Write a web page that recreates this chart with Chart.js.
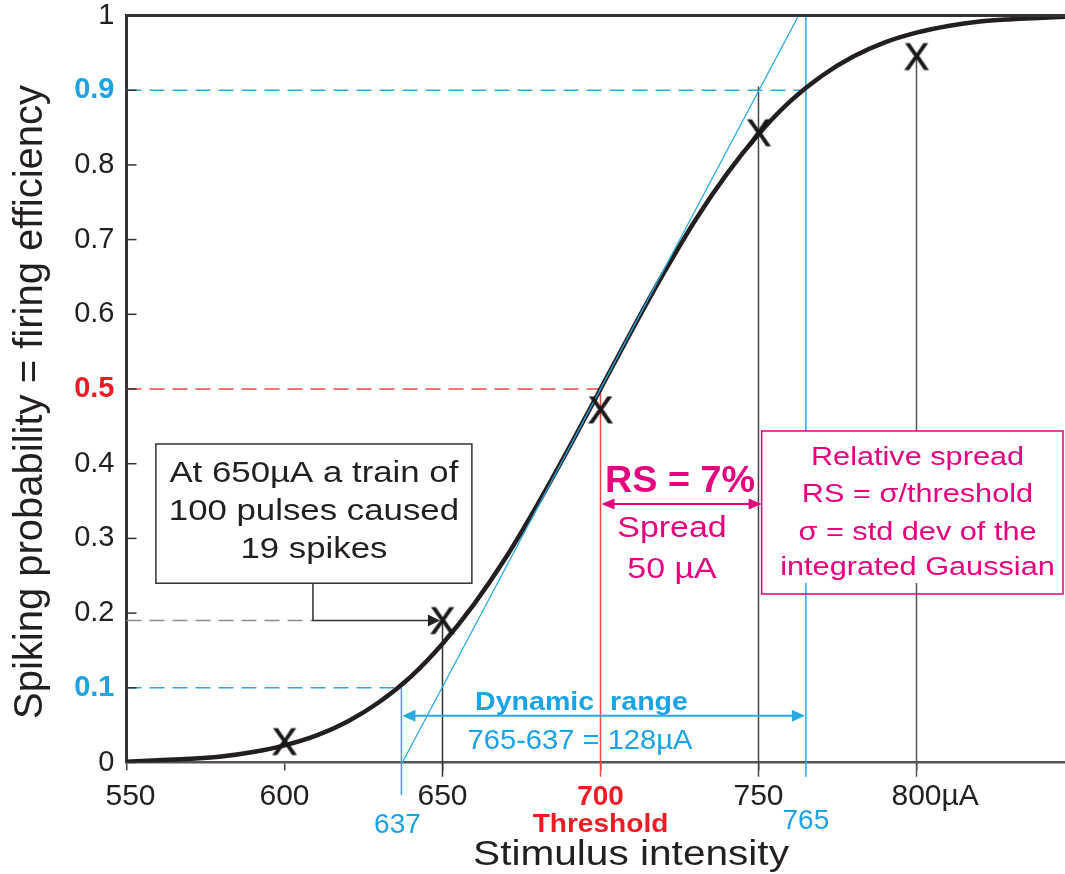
<!DOCTYPE html>
<html>
<head>
<meta charset="utf-8">
<script src="https://cdn.jsdelivr.net/npm/chart.js@4.4.1/dist/chart.umd.min.js"></script>
<style>
  html, body { margin: 0; padding: 0; background: #fff; }
  #wrap { width: 1065px; height: 874px; position: relative; }
</style>
</head>
<body>
<div id="wrap"><canvas id="c" width="1065" height="874"></canvas></div>
<script>
// ---- data ----
// Stimulus intensity (µA) and the fitted firing probability (integrated Gaussian)
const curveX = [550, 560, 570, 580, 590, 600, 610, 620, 630, 640, 650, 660, 670, 680, 690, 700,
                710, 720, 730, 740, 750, 760, 770, 780, 790, 800, 810, 820, 830, 840, 850];
const curveP = [0.001, 0.003, 0.005, 0.008, 0.014, 0.023, 0.036, 0.055, 0.081, 0.115, 0.159, 0.212,
                0.274, 0.345, 0.421, 0.500, 0.579, 0.655, 0.726, 0.788, 0.841, 0.885, 0.919, 0.945,
                0.964, 0.977, 0.986, 0.992, 0.995, 0.997, 0.999];

// Measured spiking probabilities (spikes per pulse train)
const stimX = [600, 650, 700, 750, 800];
const stimP = [0.028, 0.19, 0.472, 0.843, 0.945];

// Axis ticks
const xTickValues = [550, 600, 650, 700, 750, 800];
const xTickLabels = ['550', '600', '650', '700', '750', '800µA'];
const yTickValues = [0, 0.1, 0.2, 0.3, 0.4, 0.5, 0.6, 0.7, 0.8, 0.9, 1];
const yTickLabels = ['0', '0.1', '0.2', '0.3', '0.4', '0.5', '0.6', '0.7', '0.8', '0.9', '1'];

// Key quantities of the fit
const threshold = 700;          // µA at p = 0.5
const spreadEnd = 750;          // threshold + sigma
const rangeLow = 637;           // µA at p = 0.1
const rangeHigh = 765;          // µA at p = 0.9
const tangentX = [637.3, 762.7];
const tangentP = [0, 1];
const probeX = 650;             // 100 pulses -> 19 spikes
const probeP = 0.19;

// ---- styles ----
const FONT = '"Liberation Sans", Arial, Helvetica, sans-serif';
const DARK = '#231f20';
const BLUE = '#29aae1';
const BLUE_TXT = '#1ba3e6';
const RED = '#ee1c25';
const RED_LINE = '#f04848';
const MAGENTA = '#e6007e';
const GRAY = '#8a8a8a';
const BELOW = -0.019;           // guide lines run slightly past the axis

// "X" glyph used as point marker
function makeCross() {
  const c = document.createElement('canvas');
  c.width = 32; c.height = 34;
  const g = c.getContext('2d');
  g.fillStyle = '#1a1718';
  g.strokeStyle = '#1a1718';
  g.lineWidth = 0.9;
  g.font = '37px ' + FONT;
  g.textAlign = 'center';
  g.textBaseline = 'alphabetic';
  g.fillText('X', 16, 17 + 13.2);
  g.strokeText('X', 16, 17 + 13.2);
  return c;
}
const crossImg = makeCross();

const pts = (xs, ys) => xs.map((x, i) => ({ x: x, y: ys[i] }));

function guide(xs, ys, color, dashed, order, width) {
  return {
    type: 'line',
    data: pts(xs, ys),
    borderColor: color,
    borderWidth: width || 1.5,
    borderDash: dashed ? [15, 8] : [],
    pointRadius: 0,
    tension: 0,
    clip: false,
    order: order
  };
}

const datasets = [
  // fitted curve
  {
    type: 'line',
    data: pts(curveX, curveP),
    borderColor: DARK,
    borderWidth: 4.5,
    pointRadius: 0,
    cubicInterpolationMode: 'monotone',
    order: 3
  },
  // tangent at threshold
  guide(tangentX, tangentP, BLUE, false, 2, 1.3),
  // measured points
  {
    type: 'scatter',
    data: pts(stimX, stimP),
    pointStyle: crossImg,
    pointRadius: 12,
    order: 1
  },
  // horizontal dashed guides
  guide([550, rangeHigh], [0.9, 0.9], BLUE, true, 10),
  guide([550, threshold], [0.5, 0.5], RED_LINE, true, 10),
  guide([550, rangeLow], [0.1, 0.1], BLUE, true, 10),
  guide([550, 609], [probeP, probeP], GRAY, true, 10),
  // vertical guides
  guide([probeX, probeX], [probeP, BELOW], '#333', false, 9),
  guide([threshold, threshold], [0.5, BELOW], RED_LINE, false, 9),
  guide([spreadEnd, spreadEnd], [0.905, BELOW], '#444', false, 9),
  guide([rangeHigh, rangeHigh], [1, BELOW], BLUE, false, 9),
  guide([800, 800], [stimP[4], BELOW], '#555', false, 9),
  guide([rangeLow, rangeLow], [0.1, -0.0435], BLUE, false, 9)
];

// text with an optional horizontal stretch
function text(ctx, s, x, y, o) {
  ctx.save();
  ctx.font = (o.weight || 'normal') + ' ' + o.size + 'px ' + FONT;
  ctx.fillStyle = o.color || DARK;
  ctx.textAlign = o.align || 'center';
  ctx.textBaseline = 'alphabetic';
  ctx.translate(x, y);
  ctx.scale(o.sx || 1, 1);
  ctx.fillText(s, 0, 0);
  ctx.restore();
}

function arrowHead(ctx, tx, ty, dir, color, len, half) {
  ctx.save();
  ctx.fillStyle = color;
  ctx.beginPath();
  ctx.moveTo(tx, ty);
  ctx.lineTo(tx - dir * len, ty - half);
  ctx.lineTo(tx - dir * len, ty + half);
  ctx.closePath();
  ctx.fill();
  ctx.restore();
}

function hLine(ctx, x1, x2, y, color, w) {
  ctx.save();
  ctx.strokeStyle = color; ctx.lineWidth = w;
  ctx.beginPath(); ctx.moveTo(x1, y); ctx.lineTo(x2, y); ctx.stroke();
  ctx.restore();
}

function tickKind(c) {
  if (!c || !c.tick) return 0;
  const v = Math.round(c.tick.value * 10);
  return v === 5 ? 2 : (v === 1 || v === 9) ? 1 : 0;
}

const annotations = {
  id: 'annotations',
  afterDatasetsDraw(chart) {
    const ctx = chart.ctx;
    const xs = chart.scales.x, ys = chart.scales.y;
    const area = chart.chartArea;

    // frame top line
    hLine(ctx, area.left - 1.5, area.right, area.top, '#333', 3);

    // inward y ticks
    ctx.save();
    ctx.strokeStyle = '#333'; ctx.lineWidth = 1.5;
    yTickValues.forEach(v => {
      const y = ys.getPixelForValue(v);
      ctx.beginPath(); ctx.moveTo(area.left, y); ctx.lineTo(area.left + 10, y); ctx.stroke();
    });
    ctx.restore();

    // x tick labels
    xTickValues.forEach((v, i) => {
      const x = xs.getPixelForValue(v);
      const lab = xTickLabels[i];
      if (v === threshold) {
        text(ctx, lab, x, 805, { size: 28, weight: 'bold', color: RED });
      } else if (lab.endsWith('µA')) {
        ctx.save();
        ctx.font = '30px ' + FONT;
        const w = ctx.measureText(lab.replace('µA', '')).width;
        ctx.restore();
        text(ctx, lab, x - w / 2, 805, { size: 30, align: 'left', color: DARK });
      } else {
        text(ctx, lab, x + (i === 0 ? 4 : 0), 805, { size: 30, color: DARK });
      }
    });
    text(ctx, String(rangeLow), xs.getPixelForValue(rangeLow) - 4, 833, { size: 28, color: BLUE_TXT });
    text(ctx, String(rangeHigh), xs.getPixelForValue(rangeHigh), 829, { size: 28, color: BLUE_TXT });
    text(ctx, 'Threshold', xs.getPixelForValue(threshold), 831.5, { size: 26, weight: 'bold', color: RED, sx: 1.08 });

    // axis titles
    text(ctx, 'Stimulus intensity', 631, 865, { size: 35, sx: 1.16 });
    ctx.save();
    ctx.translate(42, 402);
    ctx.rotate(-Math.PI / 2);
    text(ctx, 'Spiking probability = firing efficiency', 0, 0, { size: 40 });
    ctx.restore();

    // dynamic range arrow
    const yDyn = ys.getPixelForValue(0.0627);
    const xLo = xs.getPixelForValue(rangeLow), xHi = xs.getPixelForValue(rangeHigh);
    hLine(ctx, xLo + 6, xHi - 6, yDyn, BLUE, 2);
    arrowHead(ctx, xLo + 1, yDyn, -1, BLUE, 13, 6);
    arrowHead(ctx, xHi - 1, yDyn, 1, BLUE, 13, 6);
    text(ctx, 'Dynamic  range', 581.5, 710, { size: 26, weight: 'bold', color: BLUE_TXT, sx: 1.1 });
    text(ctx, (rangeHigh) + '-' + (rangeLow) + ' = ' + (rangeHigh - rangeLow) + 'µA', 580, 749, { size: 28, color: BLUE_TXT, sx: 1.04 });

    // relative spread box
    const bx1 = xs.getPixelForValue(751), bx2 = 1063;
    const by1 = ys.getPixelForValue(0.4438), by2 = ys.getPixelForValue(0.2256);
    ctx.save();
    ctx.fillStyle = '#fff';
    ctx.fillRect(bx1, by1, bx2 - bx1, by2 - by1 - 11);
    ctx.strokeStyle = MAGENTA; ctx.lineWidth = 1.5;
    ctx.strokeRect(bx1, by1, bx2 - bx1, by2 - by1);
    ctx.restore();
    const rsLines = ['Relative spread', 'RS = σ/threshold', 'σ = std dev of the', 'integrated Gaussian'];
    const rsBase = [465, 501.7, 540, 575];
    rsLines.forEach((s, i) => text(ctx, s, 917.5, rsBase[i], { size: 26, color: MAGENTA, sx: 1.18 }));

    // spread arrow
    const ySp = ys.getPixelForValue(0.346);
    const xT = xs.getPixelForValue(threshold);
    hLine(ctx, xT + 6, bx1 - 6, ySp, MAGENTA, 2);
    arrowHead(ctx, xT + 1, ySp, -1, MAGENTA, 13, 5.5);
    arrowHead(ctx, bx1, ySp, 1, MAGENTA, 13, 5.5);
    text(ctx, 'RS = 7%', 680, 491.7, { size: 37, weight: 'bold', color: MAGENTA, sx: 1.02 });
    text(ctx, 'Spread', 672, 536.7, { size: 29, color: MAGENTA, sx: 1.17 });
    text(ctx, '50 µA', 672, 578, { size: 29, color: MAGENTA, sx: 1.17 });

    // callout for the 650 µA point
    const cx1 = xs.getPixelForValue(559.3), cx2 = xs.getPixelForValue(659.3);
    const cy1 = ys.getPixelForValue(0.4264), cy2 = ys.getPixelForValue(0.240);
    ctx.save();
    ctx.fillStyle = '#fff';
    ctx.fillRect(cx1, cy1, cx2 - cx1, cy2 - cy1);
    ctx.strokeStyle = '#333'; ctx.lineWidth = 1.5;
    ctx.strokeRect(cx1, cy1, cx2 - cx1, cy2 - cy1);
    const jx = xs.getPixelForValue(609), jy = ys.getPixelForValue(probeP);
    const tip = xs.getPixelForValue(649.2);
    ctx.beginPath();
    ctx.moveTo(jx, cy2); ctx.lineTo(jx, jy); ctx.lineTo(tip - 10, jy);
    ctx.stroke();
    ctx.restore();
    arrowHead(ctx, tip, jy, 1, '#222', 12, 6);
    const cLines = ['At 650µA a train of', '100 pulses caused', '19 spikes'];
    const cBase = [481.5, 520, 558];
    cLines.forEach((s, i) => text(ctx, s, (cx1 + cx2) / 2, cBase[i], { size: 30, color: DARK, sx: 1.16 }));
  }
};

new Chart(document.getElementById('c'), {
  type: 'scatter',
  data: { datasets: datasets },
  options: {
    responsive: false,
    devicePixelRatio: 1,
    animation: false,
    layout: { autoPadding: false, padding: { top: 15.5, left: 0, right: 0, bottom: 0 } },
    plugins: { legend: { display: false }, tooltip: { enabled: false } },
    scales: {
      x: {
        type: 'linear',
        min: 550,
        max: 847,
        afterBuildTicks: s => { s.ticks = xTickValues.map(v => ({ value: v })); },
        afterFit: s => { s.height = 111.5; s.paddingLeft = 0; s.paddingRight = 0; },
        ticks: { display: false },
        grid: { drawOnChartArea: false, drawTicks: true, tickLength: 8, color: '#444', lineWidth: 1.5 },
        border: { color: '#555', width: 2.5 }
      },
      y: {
        type: 'linear',
        min: 0,
        max: 1,
        afterBuildTicks: s => { s.ticks = yTickValues.map(v => ({ value: v })); },
        afterFit: s => { s.width = 126.5; s.paddingTop = 0; s.paddingBottom = 0; },
        ticks: {
          padding: 12,
          callback: (v, i) => yTickLabels[i],
          color: c => { const k = tickKind(c); return k === 2 ? RED : k === 1 ? BLUE_TXT : DARK; },
          font: c => ({ family: FONT, size: 29, weight: tickKind(c) ? 'bold' : 'normal' })
        },
        grid: { drawOnChartArea: false, drawTicks: false },
        border: { color: '#333', width: 3 }
      }
    }
  },
  plugins: [annotations]
});
</script>
</body>
</html>
